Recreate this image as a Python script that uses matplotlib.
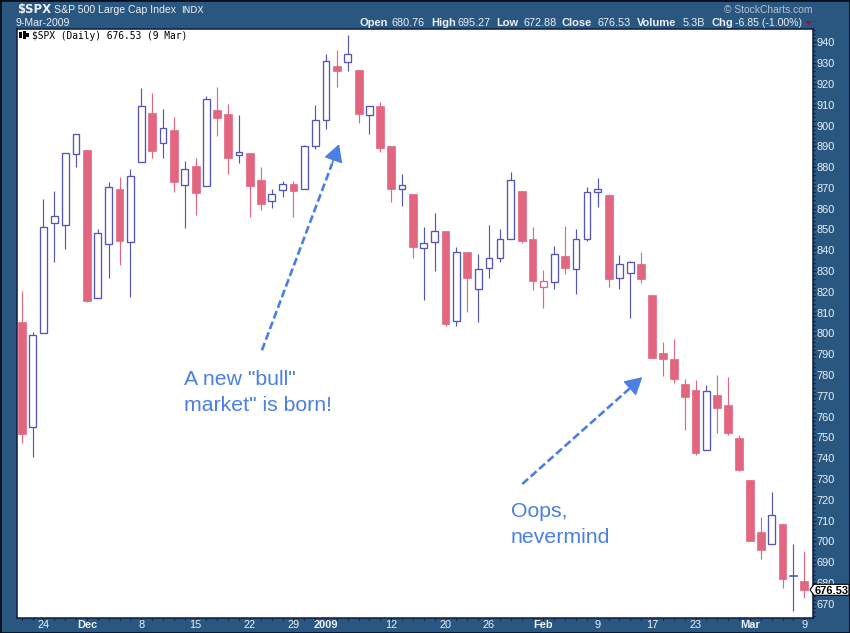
import matplotlib
matplotlib.use("Agg")
import matplotlib.pyplot as plt
from matplotlib.patches import Rectangle, Polygon
from matplotlib.ticker import MultipleLocator, FixedLocator, NullFormatter

# ---- data ----
opens = [805.6, 755.2, 800.4, 852.9, 852.4, 886.1, 888.2, 817.3, 842.8, 869.4, 843.8, 882.3, 906.0,
         891.4, 897.8, 871.2, 880.5, 870.7, 907.4, 905.5, 885.9, 886.7, 873.8, 863.5, 868.8, 871.8,
         869.7, 890.0, 902.5, 928.6, 930.4, 926.7, 904.9, 909.4, 890.1, 869.3, 867.0, 841.2, 843.8,
         849.2, 806.2, 839.1, 821.6, 831.7, 836.5, 845.2, 868.5, 845.4, 822.4, 824.8, 837.2, 831.2,
         845.5, 867.8, 866.5, 826.9, 829.3, 833.3, 818.4, 790.5, 787.5, 775.6, 772.7, 744.1, 770.3,
         765.5, 749.8, 729.6, 704.6, 698.7, 708.4, 684.0, 680.76]
highs = [820.3, 800.6, 864.9, 868.5, 887.0, 895.7, 888.2, 850.2, 872.6, 875.2, 879.0, 917.9, 915.6,
         907.9, 904.1, 882.7, 884.2, 914.0, 918.3, 910.3, 905.0, 886.7, 880.0, 869.3, 873.1, 873.1,
         890.6, 909.8, 934.4, 936.3, 943.5, 926.7, 909.2, 911.3, 890.1, 876.6, 867.0, 851.0, 857.7,
         849.2, 841.5, 839.1, 838.1, 852.1, 850.2, 877.6, 868.5, 851.1, 830.4, 842.0, 851.6, 850.2,
         870.4, 874.7, 867.3, 837.5, 835.0, 839.1, 818.4, 795.8, 797.2, 778.3, 777.5, 775.1, 779.9,
         779.0, 751.2, 729.6, 711.8, 723.9, 708.4, 699.0, 695.27]
lows = [747.4, 740.6, 800.4, 834.4, 840.7, 880.2, 815.2, 817.3, 826.7, 832.8, 817.6, 882.3, 884.5,
        884.5, 868.1, 850.8, 857.1, 870.7, 895.1, 876.8, 882.1, 856.1, 859.5, 860.4, 865.7, 856.1,
        869.7, 888.8, 898.5, 918.5, 926.2, 901.3, 896.0, 887.4, 863.3, 861.4, 836.4, 816.2, 830.1,
        803.6, 803.6, 810.4, 805.6, 826.7, 834.4, 845.2, 843.4, 820.8, 812.3, 821.5, 828.5, 819.1,
        844.6, 860.9, 822.4, 821.5, 807.5, 824.3, 788.3, 779.6, 776.0, 753.7, 741.6, 744.1, 752.2,
        751.2, 734.0, 700.4, 691.8, 698.7, 677.8, 666.8, 672.88]
closes = [751.7, 799.5, 851.0, 856.7, 887.0, 895.7, 815.7, 848.1, 870.2, 844.6, 875.5, 909.2, 887.9,
          898.6, 873.0, 878.9, 867.7, 912.6, 903.7, 884.5, 887.2, 871.0, 862.4, 867.3, 872.1, 868.6,
          890.0, 902.5, 930.9, 926.4, 934.2, 905.7, 909.2, 889.3, 869.6, 871.2, 841.7, 843.3, 849.5,
          804.6, 839.4, 826.7, 831.2, 836.1, 845.2, 873.6, 844.6, 825.3, 825.0, 838.0, 831.6, 845.2,
          867.8, 869.3, 826.3, 833.2, 834.6, 826.3, 788.3, 787.6, 778.1, 769.5, 742.4, 772.5, 764.2,
          752.2, 734.5, 700.4, 696.1, 712.7, 682.1, 683.3, 676.53]
date_ticks = [2, 6, 11, 16, 21, 25, 28, 34, 39, 43, 48, 53, 58, 62, 67, 72]
date_labels = ["24", "Dec", "8", "15", "22", "29", "2009", "12", "20", "26", "Feb", "9", "17", "23", "Mar", "9"]
bold_labels = ["Dec", "2009", "Feb", "Mar"]
volume = "5.3B"
change = -6.85
change_pct = -1.00
notes = ['A new "bull"\nmarket" is born!', "Oops,\nnevermind"]

BG = "#29577F"
NAVY = "#0B1B45"
RED = "#E2667F"
BLUE = "#5555B5"
NOTE = "#4A7FE3"
LIGHT = "#EDF1F5"

W, H = 850, 633
fig = plt.figure(figsize=(8.5, 6.33), dpi=100, facecolor=BG)


def fx(x):
    return x / W


def fy(y):
    return 1 - y / H


def label(x, y, s, size=8.6, weight="normal", family="Liberation Sans", color=LIGHT, ha="left"):
    fig.text(fx(x), fy(y), s, fontsize=size, fontweight=weight, family=family, color=color, ha=ha, va="baseline")


# outer frame
fig.patches.append(Rectangle((0, 0), 1, 1, transform=fig.transFigure, fill=False, ec="#0A0F20", lw=2))

L, T, R, B = 16.5, 28.5, 812.5, 617.5
ax = fig.add_axes([fx(L), fy(B), (R - L) / W, (B - T) / H], facecolor="white")
ax.set_xlim(-0.479, 72.76)
ax.set_ylim(663.44, 946.64)
for s in ax.spines.values():
    s.set_color(NAVY)
    s.set_linewidth(1.1)

for i, (o, h, l, c) in enumerate(zip(opens, highs, lows, closes)):
    up_day = i > 0 and c >= closes[i - 1]
    col = BLUE if up_day else RED
    ax.vlines(i, l, h, color=col, lw=0.85, zorder=2)
    hollow = c >= o
    if hollow:
        ax.bar(i, c - o, bottom=o, width=0.62, facecolor="white", edgecolor=col, linewidth=0.95, zorder=3)
    else:
        ax.bar(i, o - c, bottom=c, width=0.72, facecolor=col, edgecolor=col, linewidth=0.5, zorder=3)

# axes ticks
ax.yaxis.tick_right()
ax.yaxis.set_major_locator(MultipleLocator(10))
ax.yaxis.set_minor_locator(MultipleLocator(2))
ax.tick_params(axis="y", which="major", length=2, width=0.8, color=NAVY, labelcolor=LIGHT, labelsize=7.9, pad=0.6)
ax.tick_params(axis="y", which="minor", length=1.2, width=0.8, color=NAVY)
for t in ax.get_yticklabels():
    t.set_family("Liberation Sans")

ax.set_xticks(date_ticks)
ax.set_xticklabels(date_labels, family="Liberation Sans")
ax.xaxis.set_minor_locator(FixedLocator(range(len(closes))))
ax.xaxis.set_minor_formatter(NullFormatter())
ax.tick_params(axis="x", which="major", length=1.5, width=0.8, color=NAVY, labelcolor=LIGHT, labelsize=7.9, pad=0.4)
ax.tick_params(axis="x", which="minor", length=1.5, width=0.8, color=NAVY)
for t in ax.get_xticklabels():
    if t.get_text() in bold_labels:
        t.set_fontweight("bold")

# annotation arrows (index, price)
for (x0, p0, x1, p1, xm, pm) in [(22.1, 791.9, 29.2, 891.0, 28.55, 881.5),
                                 (46.05, 727.6, 57.1, 779.0, 55.9, 773.4)]:
    ax.plot([x0, xm], [p0, pm], color=NOTE, lw=1.9, dashes=(3.0, 1.3), zorder=5, solid_capstyle="butt")
    ax.annotate("", xy=(x1, p1), xytext=(xm, pm),
                arrowprops=dict(arrowstyle="-|>,head_length=0.75,head_width=0.42", color=NOTE, lw=1.2,
                                mutation_scale=14, shrinkA=0, shrinkB=0), zorder=6)

label(184, 385, notes[0].split("\n")[0], size=15.3, color=NOTE)
label(184, 411, notes[0].split("\n")[1], size=15.3, color=NOTE)
label(511, 517, notes[1].split("\n")[0], size=15.3, color=NOTE)
label(511, 543, notes[1].split("\n")[1], size=15.3, color=NOTE)

# header
label(17, 13.5, "$SPX", size=8.4, weight="bold", family="DejaVu Sans")
label(54, 13, "S&P 500 Large Cap Index", size=7.55)
label(181, 13, "INDX", size=6.6, family="DejaVu Sans")
label(16, 25.5, "9-Mar-2009", size=7.6)
label(812, 12.7, "\u00a9 StockCharts.com", size=7.4, color="#B4C3D2", ha="right")

hdr = [(360, "Open", opens[-1]), (431, "High", highs[-1]), (496, "Low", lows[-1]), (562, "Close", closes[-1])]
vals_x = [392, 458, 524, 598]
for (x, name, v), vx in zip(hdr, vals_x):
    label(x, 25.7, name, size=8.0, weight="bold")
    label(vx, 25.7, f"{v:.2f}", size=7.8)
label(637, 25.7, "Volume", size=8.0, weight="bold")
label(683, 25.7, volume, size=7.8)
label(711, 25.7, "Chg", size=8.0, weight="bold")
label(735, 25.7, f"{change:.2f} ({change_pct:.2f}%)", size=7.6)
fig.patches.append(Polygon([(fx(805), fy(21)), (fx(812), fy(21)), (fx(808.5), fy(25))], closed=True,
                           transform=fig.transFigure, fc="#A01038", ec="none"))

# chart title with small candle icon
for x, y0, y1 in [(20.5, 32, 38), (24.5, 31, 39), (27.5, 33, 37)]:
    fig.patches.append(Rectangle((fx(x - 1.3), fy(y1)), 2.6 / W, (y1 - y0) / H, transform=fig.transFigure,
                                 fc="black", ec="none", zorder=10))
fig.text(fx(32), fy(39), f"$SPX (Daily) {closes[-1]:.2f} (9 Mar)", fontsize=6.9, family="DejaVu Sans Mono",
         color="black", ha="left", va="baseline", zorder=10)

# last price flag
yc = 589.8
fig.patches.append(Polygon([(fx(810), fy(yc)), (fx(814), fy(yc - 5.5)), (fx(849), fy(yc - 5.5)),
                            (fx(849), fy(yc + 5.5)), (fx(814), fy(yc + 5.5))], closed=True,
                           transform=fig.transFigure, fc="white", ec="black", lw=0.8, zorder=10))
fig.text(fx(815), fy(yc + 4), f"{closes[-1]:.2f}", fontsize=8.0, fontweight="bold", family="Liberation Sans",
         color="black", ha="left", va="baseline", zorder=11)

fig.savefig("out.png", dpi=100, facecolor=BG)
